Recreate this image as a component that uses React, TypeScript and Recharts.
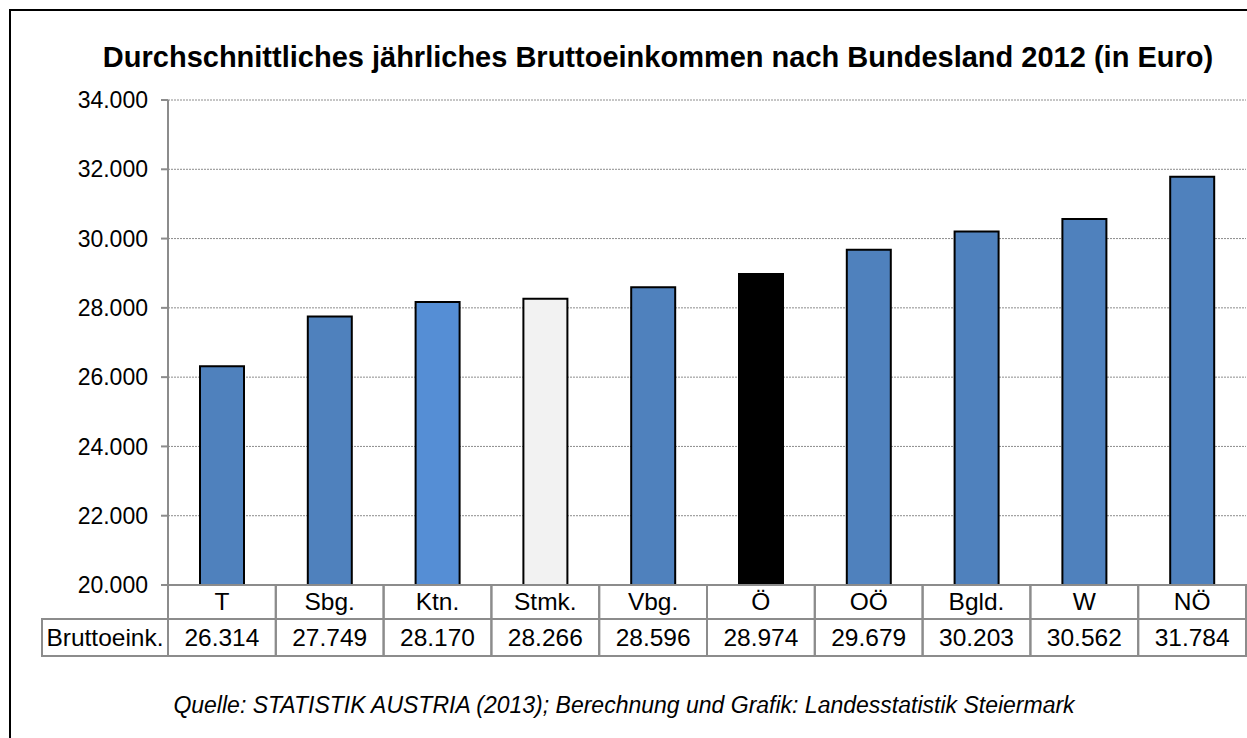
import React from "react";
import { BarChart, Bar, XAxis, YAxis, CartesianGrid, Cell } from "recharts";

const categories = ["T", "Sbg.", "Ktn.", "Stmk.", "Vbg.", "Ö", "OÖ", "Bgld.", "W", "NÖ"];
const incomes = [26314, 27749, 28170, 28266, 28596, 28974, 29679, 30203, 30562, 31784];
const yTicks = [20000, 22000, 24000, 26000, 28000, 30000, 32000, 34000];
const rowLabel = "Bruttoeink.";
const title = "Durchschnittliches jährliches Bruttoeinkommen nach Bundesland 2012 (in Euro)";
const source = "Quelle: STATISTIK AUSTRIA (2013); Berechnung und Grafik: Landesstatistik Steiermark";

const data = categories.map((name, i) => ({ name, value: incomes[i] }));

const DEFAULT_FILL = "#4F81BD";
const HIGHLIGHT: Record<string, string> = { "Ktn.": "#558ED5", "Stmk.": "#F2F2F2", "Ö": "#000000" };

const FONT = "'Liberation Sans', Arial, sans-serif";
const TABLE_STROKE = "#8C8C8C";
const W = 1247;
const H = 738;
const ROW1 = 34;
const ROW2 = 37;
const LABEL_CELL = 126;
const TABLE_FS = 24.5;

const fmt = (v: number) => String(v).replace(/\B(?=(\d{3})+(?!\d))/g, ".");

const TableTick = (props: any) => {
  const { x, y, payload, index } = props;
  const half = payload && payload.offset ? payload.offset : 53.9;
  const i = typeof index === "number" ? index : categories.indexOf(payload.value);
  return (
    <g>
      <rect x={x - half} y={y} width={2 * half} height={ROW1} fill="none" stroke={TABLE_STROKE} strokeWidth={2} />
      <text x={x} y={y + 25} textAnchor="middle" fontSize={TABLE_FS} fontFamily={FONT} fill="#000">
        {payload.value}
      </text>
      <rect x={x - half} y={y + ROW1} width={2 * half} height={ROW2} fill="none" stroke={TABLE_STROKE} strokeWidth={2} />
      <text x={x} y={y + ROW1 + 27} textAnchor="middle" fontSize={TABLE_FS} fontFamily={FONT} fill="#000">
        {fmt(incomes[i])}
      </text>
      {i === 0 && (
        <g>
          <rect x={x - half - LABEL_CELL} y={y + ROW1} width={LABEL_CELL} height={ROW2} fill="none" stroke={TABLE_STROKE} strokeWidth={2} />
          <text x={x - half - LABEL_CELL / 2} y={y + ROW1 + 27} textAnchor="middle" fontSize={TABLE_FS} fontFamily={FONT} fill="#000">
            {rowLabel}
          </text>
        </g>
      )}
    </g>
  );
};

export default function App() {
  return (
    <div style={{ position: "absolute", left: 0, top: 0, width: W, height: H, overflow: "hidden", background: "#fff" }}>
      <svg width={W} height={H} style={{ position: "absolute", left: 0, top: 0 }}>
        <path d={`M ${W + 5} 10 H 10 V ${H + 5}`} fill="none" stroke="#000" strokeWidth={2} />
        <text x={658} y={67} textAnchor="middle" fontSize={29} fontWeight="bold" fontFamily={FONT} fill="#000">
          {title}
        </text>
        <text x={624} y={713} textAnchor="middle" fontSize={23} fontStyle="italic" fontFamily={FONT} fill="#000">
          {source}
        </text>
      </svg>
      <div style={{ position: "absolute", left: 0, top: 0 }}>
        <BarChart width={W} height={H} data={data} margin={{ top: 100, right: 1, bottom: 82, left: 0 }} barSize={44}>
          <CartesianGrid vertical={false} stroke="#8C8C8C" strokeDasharray="2 1" />
          <XAxis
            dataKey="name"
            height={71}
            interval={0}
            tickLine={false}
            tickSize={0}
            tickMargin={0}
            axisLine={{ stroke: TABLE_STROKE, strokeWidth: 2 }}
            tick={<TableTick />}
          />
          <YAxis
            width={168}
            domain={[20000, 34000]}
            ticks={yTicks}
            allowDataOverflow
            tickFormatter={fmt}
            tickSize={7}
            tickMargin={13}
            axisLine={{ stroke: TABLE_STROKE, strokeWidth: 2 }}
            tickLine={{ stroke: TABLE_STROKE, strokeWidth: 2 }}
            tick={{ fontSize: 23, fontFamily: FONT, fill: "#000" }}
          />
          <Bar dataKey="value" stroke="#000" strokeWidth={2} isAnimationActive={false}>
            {data.map((d) => (
              <Cell key={d.name} fill={HIGHLIGHT[d.name] || DEFAULT_FILL} />
            ))}
          </Bar>
        </BarChart>
      </div>
    </div>
  );
}
